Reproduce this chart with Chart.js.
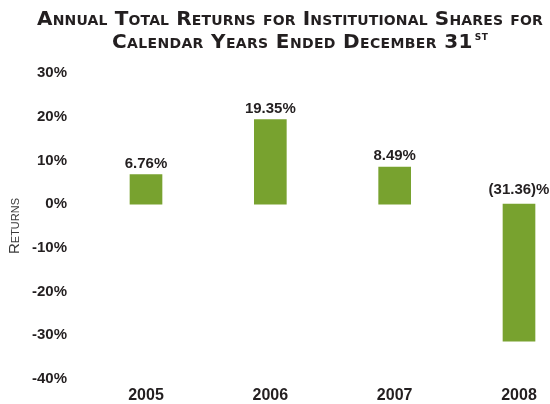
<!DOCTYPE html>
<html>
<head>
<meta charset="utf-8">
<script src="https://cdn.jsdelivr.net/npm/chart.js@4.4.1/dist/chart.umd.min.js"></script>
<style>
  body { margin: 0; background: #fff; }
  canvas { display: block; }
</style>
</head>
<body>
<canvas id="returns-chart" width="550" height="404"></canvas>
<script>
const years = ["2005", "2006", "2007", "2008"];
const returns = [6.76, 19.35, 8.49, -31.36];
const yTicks = { min: -40, max: 30, step: 10 };
const titleLine1 = "Annual Total Returns for Institutional Shares for";
const titleLine2 = "Calendar Years Ended December 31";
const titleSup = "ST";

const ink = "#231f20";
const green = "#78a22f";
const sans = "'Liberation Sans', Arial, sans-serif";
const heavy = "'DejaVu Sans', 'Liberation Sans', sans-serif";

function fmtReturn(v) {
  return v < 0 ? `(${Math.abs(v).toFixed(2)})%` : `${v.toFixed(2)}%`;
}

// value labels over each bar (negatives sit above the zero line)
const barLabels = {
  id: "barLabels",
  afterDatasetsDraw(chart) {
    const ctx = chart.ctx;
    const meta = chart.getDatasetMeta(0);
    ctx.save();
    ctx.font = `bold 15px ${sans}`;
    ctx.fillStyle = ink;
    ctx.textAlign = "center";
    ctx.textBaseline = "alphabetic";
    meta.data.forEach((bar, i) => {
      const v = returns[i];
      const y = v < 0 ? bar.base - 10 : bar.y - 7;
      ctx.fillText(fmtReturn(v), bar.x, y);
    });
    ctx.restore();
  },
};

// two-line small-caps title, second line with a superscript "st"
const capsTitle = {
  id: "capsTitle",
  afterDraw(chart) {
    const ctx = chart.ctx;
    const big = `small-caps bold 20px ${heavy}`;
    ctx.save();
    ctx.fillStyle = ink;
    ctx.textBaseline = "alphabetic";
    ctx.font = big;
    ctx.letterSpacing = "0.15px";
    ctx.textAlign = "center";
    ctx.fillText(titleLine1, 290, 25);

    ctx.textAlign = "left";
    ctx.letterSpacing = "0.35px";
    const w1 = ctx.measureText(titleLine2).width;
    ctx.fillText(titleLine2, 112, 48);
    ctx.letterSpacing = "0.5px";
    ctx.font = `bold 9px ${heavy}`;
    ctx.fillText(titleSup, 112 + w1 + 2, 40);
    ctx.restore();
  },
};

new Chart(document.getElementById("returns-chart"), {
  type: "bar",
  data: {
    labels: years,
    datasets: [
      {
        data: returns,
        backgroundColor: green,
        barThickness: 32,
        clip: false,
      },
    ],
  },
  options: {
    responsive: false,
    animation: false,
    devicePixelRatio: 1,
    layout: { padding: { top: 73, right: 31, bottom: 0, left: 0 } },
    plugins: {
      legend: { display: false },
      tooltip: { enabled: false },
      title: { display: false },
    },
    scales: {
      x: {
        offset: false,
        grid: { display: false, drawTicks: false },
        border: { display: false },
        ticks: { color: ink, font: { family: sans, size: 16, weight: "bold" }, padding: 7 },
        afterFit(scale) { scale.height = 25; },
      },
      y: {
        min: yTicks.min,
        max: yTicks.max,
        grid: { display: false, drawTicks: false },
        border: { display: false },
        ticks: {
          stepSize: yTicks.step,
          color: ink,
          font: { family: sans, size: 15, weight: "bold" },
          padding: 79,
          callback: (v) => v + "%",
        },
        title: {
          display: true,
          text: "Returns",
          color: "#3a3a3a",
          font: { family: sans, size: 15, weight: "small-caps normal" },
          padding: { top: 6 },
        },
        afterFit(scale) {
          scale.width = 146;
          scale.paddingTop = 10;
          scale.paddingBottom = 10;
        },
      },
    },
  },
  plugins: [barLabels, capsTitle],
});
</script>
</body>
</html>
